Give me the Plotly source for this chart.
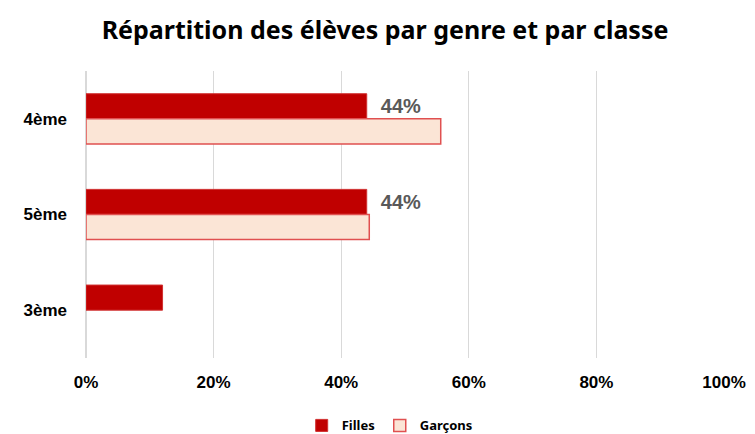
import plotly.graph_objects as go

# Données (parts en fraction)
classes = ["4ème", "5ème", "3ème"]
filles = [0.44, 0.44, 0.12]
garcons = [0.556, 0.444, None]
labels_filles = ["\u00a0\u00a044%", "\u00a0\u00a044%", ""]
x_ticks = [0, 0.2, 0.4, 0.6, 0.8, 1.0]
x_ticktext = ["0%", "20%", "40%", "60%", "80%", "100%"]

fig = go.Figure()

fig.add_trace(go.Bar(
    y=classes, x=filles, name="Filles", orientation="h",
    marker=dict(color="#C00000", line=dict(color="#D03030", width=1)),
    text=labels_filles, textposition="outside", cliponaxis=False,
    textfont=dict(family="Liberation Sans, Arial", size=20, color="#595959", weight="bold"),
    hoverinfo="skip",
))
fig.add_trace(go.Bar(
    y=classes, x=garcons, name="Garçons", orientation="h",
    marker=dict(color="#FBE5D6", line=dict(color="#E05050", width=1.5)),
    hoverinfo="skip",
))

fig.update_layout(
    width=755, height=434,
    margin=dict(l=86, r=31, t=71, b=76, autoexpand=False),
    paper_bgcolor="white", plot_bgcolor="white",
    barmode="group", bargap=0.475, bargroupgap=0,
    title=dict(
        text="Répartition des élèves par genre et par classe",
        x=0.51, xanchor="center", y=0.931, yanchor="middle",
        font=dict(family="Noto Sans", size=25, color="black", weight="bold"),
    ),
    xaxis=dict(
        range=[0, 1], tickvals=x_ticks, ticktext=x_ticktext,
        showgrid=True, gridcolor="#D9D9D9", gridwidth=1,
        zeroline=True, zerolinecolor="#D9D9D9", showline=False,
        ticks="", ticklabelstandoff=12, automargin=False,
        tickfont=dict(family="Liberation Sans, Arial", size=17, color="black", weight="bold"),
    ),
    yaxis=dict(
        categoryorder="array", categoryarray=classes, autorange="reversed",
        showgrid=False, zeroline=False, showline=False, ticks="",
        ticklabelstandoff=18, automargin=False,
        tickfont=dict(family="Liberation Sans, Arial", size=17, color="black", weight="bold"),
    ),
    legend=dict(
        orientation="h", x=0.476, xanchor="center", y=-0.235, yanchor="middle",
        font=dict(family="Noto Sans", size=13, color="black", weight="bold"),
        itemwidth=30,
    ),
)

# la marge par défaut du <body> décale le graphique de 8 px
fig.write_html(
    "out.html",
    config={"displayModeBar": False},
    post_script="document.body.style.margin='0';",
)
